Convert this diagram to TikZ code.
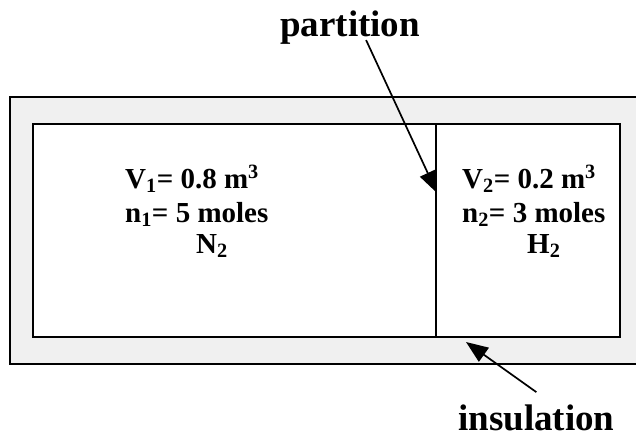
\documentclass[tikz,border=0pt]{standalone}
\usepackage{fontspec}
\setmainfont{Liberation Serif}
\usetikzlibrary{arrows.meta}
\tikzset{
  wall/.style={draw=black, line width=2pt},
  lbl/.style={inner sep=0pt, anchor=base west, font=\bfseries\fontsize{29}{32}\selectfont},
  biglbl/.style={inner sep=0pt, anchor=base west, font=\bfseries\fontsize{37}{40}\selectfont},
  pointer/.style={line width=1.7pt, -{Triangle[length=22pt,width=17pt]}}
}
\begin{document}
\begin{tikzpicture}[x=1pt,y=-1pt]
\useasboundingbox (0,0) rectangle (636,439);
\clip (0,0) rectangle (636,439);
% insulation layer
\path[wall, fill=black!6] (10,97) rectangle (660,364);
% vessel
\path[wall, fill=white] (33,124) rectangle (620,337);
% partition
\coordinate (ptop) at (436,124);
\coordinate (pbot) at (436,337);
\draw[line width=1.5pt] (ptop) -- (pbot);
% contents
\node[lbl] (v1) at (125,188) {V\textsubscript{1}= 0.8 m\textsuperscript{3}};
\node[lbl] (n1) at (125,222) {n\textsubscript{1}= 5 moles};
\node[lbl] (g1) at (196,253) {N\textsubscript{2}};
\node[lbl] (v2) at (462,188) {V\textsubscript{2}= 0.2 m\textsuperscript{3}};
\node[lbl] (n2) at (462,222) {n\textsubscript{2}= 3 moles};
\node[lbl] (g2) at (527,253) {H\textsubscript{2}};
% labels
\node[biglbl] (partlbl) at (280,36) {partition};
\node[biglbl] (insul) at (458,430) {insulation};
\coordinate (ptip) at (437,193);
\coordinate (itip) at (466,342);
\draw[pointer] ([xshift=16pt,yshift=4pt]partlbl.south) -- (ptip);
\draw[pointer] ([yshift=12pt]insul.north) -- (itip);
\end{tikzpicture}
\end{document}
